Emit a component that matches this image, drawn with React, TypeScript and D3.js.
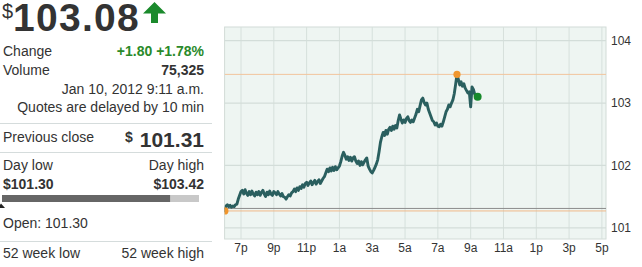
import React from "react";
import * as d3 from "d3";

// ---- data ----
const startMinute = 1; // minutes after 6:00 p.m.
const stepMinutes = 5;
const firstPrice = 101.27;
const prices: number[] = [
  // 6p-7p
  101.35, 101.37, 101.34, 101.36, 101.33, 101.35, 101.34, 101.37, 101.38, 101.46, 101.52, 101.58,
  // 7p-8p
  101.6, 101.54, 101.61, 101.55, 101.52, 101.58, 101.53, 101.59, 101.54, 101.51, 101.57, 101.53,
  // 8p-9p
  101.58, 101.52, 101.57, 101.6, 101.54, 101.5, 101.57, 101.53, 101.59, 101.54, 101.52, 101.58,
  // 9p-10p
  101.56, 101.53, 101.58, 101.54, 101.51, 101.55, 101.5, 101.49, 101.46, 101.5, 101.53, 101.51,
  // 10p-11p
  101.56, 101.58, 101.62, 101.58, 101.64, 101.6, 101.66, 101.63, 101.69, 101.65, 101.71, 101.73,
  // 11p-12a
  101.68, 101.72, 101.75, 101.69, 101.73, 101.76, 101.7, 101.74, 101.77, 101.71, 101.75, 101.79,
  // 12a-1a
  101.82, 101.88, 101.94, 101.9, 101.96, 101.91, 101.97, 101.92, 101.98, 101.93, 101.96, 101.99,
  // 1a-2a
  102.06, 102.15, 102.21, 102.16, 102.1, 102.14, 102.08, 102.13, 102.07, 102.12, 102.14, 102.07,
  // 2a-3a
  102.03, 102.07, 102.0, 102.06, 102.01, 102.05, 102.09, 102.12, 101.99, 101.94, 101.9, 101.88,
  // 3a-4a
  101.92, 101.97, 102.02, 102.09, 102.22, 102.37, 102.46, 102.53, 102.48, 102.56, 102.5, 102.58,
  // 4a-5a
  102.61, 102.56, 102.63, 102.58, 102.64, 102.6, 102.72, 102.81, 102.74, 102.68, 102.73, 102.69,
  // 5a-6a
  102.75, 102.78, 102.72, 102.69, 102.73, 102.7, 102.76, 102.82, 102.9, 102.86, 102.96, 103.05,
  // 6a-7a
  103.08, 103.01, 102.97, 103.0, 102.9, 102.84, 102.78, 102.72, 102.7, 102.65, 102.68, 102.63,
  // 7a-8a
  102.62, 102.66, 102.63, 102.7, 102.78, 102.86, 102.9, 102.97, 102.94, 103.0, 103.05, 103.15,
  // 8a-9a
  103.3, 103.46, 103.38, 103.29, 103.34, 103.27, 103.31, 103.24, 103.2, 103.16, 103.18, 102.94,
  // 9a-
  103.26, 103.22, 103.14, 103.1,
];
const previousClose = 101.31;
const xTickMinutes = [60, 180, 300, 420, 540, 660, 780, 900, 1020, 1140, 1260, 1380];
const xTickLabels = ["7p", "9p", "11p", "1a", "3a", "5a", "7a", "9a", "11a", "1p", "3p", "5p"];
const yTicks = [101, 102, 103, 104];
const xDomain = [0, 1395];
const yDomain = [100.82, 104.22];

const quoteLabel = "103.08";
const changeText = "+1.80 +1.78%";
const volumeText = "75,325";
const timeText = "Jan 10, 2012 9:11 a.m.";
const delayText = "Quotes are delayed by 10 min";
const prevCloseText = "101.31";
const dayLowText = "$101.30";
const dayHighText = "$103.42";
const openText = "Open: 101.30";
const dayLow = 101.3;
const dayHigh = 103.42;
const openPrice = 101.3;

type Pt = { m: number; p: number };
const series: Pt[] = [
  { m: startMinute, p: firstPrice },
  ...prices.map((p, i) => ({ m: 5 + i * stepMinutes, p })),
];

const FONT = "'Liberation Sans', Arial, sans-serif";
const TEXT = "#333";
const SEP = "#d5dcdc";

export default function App() {
  const W = 642;
  const H = 267;
  const pl = 224.6,
    pr = 606,
    pt = 27,
    pb = 239;
  const x = d3.scaleLinear().domain(xDomain).range([pl, pr]);
  const y = d3.scaleLinear().domain(yDomain).range([pb, pt]);
  const line = d3
    .line<Pt>()
    .x((d) => x(d.m))
    .y((d) => y(d.p));
  const hi = series.reduce((a, b) => (b.p > a.p ? b : a));
  const lo = series.reduce((a, b) => (b.p < a.p ? b : a));
  const last = series[series.length - 1];

  // day range bar
  const barX0 = 2,
    barX1 = 199;
  const rangeScale = d3.scaleLinear().domain([dayLow, dayHigh + (dayHigh - dayLow) * 0.172]).range([barX0, barX1]);

  const right = 204;

  return (
    <svg
      width={W}
      height={H}
      style={{ position: "absolute", left: 0, top: 0, background: "#fff" }}
      fontFamily={FONT}
    >
      <defs>
        <clipPath id="plotclip">
          <rect x={pl} y={pt} width={pr - pl} height={pb - pt} />
        </clipPath>
      </defs>
      {/* ---------- left quote panel ---------- */}
      <text x={2} y={18} fontSize={20} fill={TEXT}>
        $
      </text>
      <text x={13} y={30.5} fontSize={39} fontWeight="bold" fill={TEXT} letterSpacing={1.3}>
        {quoteLabel}
      </text>
      <polygon points="154.5,2 143,13.5 151,13.5 151,23 158,23 158,13.5 166,13.5" fill="#1b8a2c" />

      <text x={3} y={56} fontSize={14} fill={TEXT}>
        Change
      </text>
      <text x={right} y={56} fontSize={14} fontWeight="bold" fill="#2a8a2a" textAnchor="end">
        {changeText}
      </text>
      <text x={3} y={75} fontSize={14} fill={TEXT}>
        Volume
      </text>
      <text x={right} y={75} fontSize={14} fontWeight="bold" fill={TEXT} textAnchor="end">
        {volumeText}
      </text>
      <text x={right} y={94} fontSize={14} fill={TEXT} textAnchor="end">
        {timeText}
      </text>
      <text x={right} y={112} fontSize={14} fill={TEXT} textAnchor="end">
        {delayText}
      </text>
      <line x1={0} x2={212} y1={123.5} y2={123.5} stroke={SEP} />

      <text x={3} y={142} fontSize={14} fill={TEXT}>
        Previous close
      </text>
      <text x={125} y={142} fontSize={14} fontWeight="bold" fill={TEXT}>
        $
      </text>
      <text x={right} y={147} fontSize={21} fontWeight="bold" fill={TEXT} textAnchor="end">
        {prevCloseText}
      </text>
      <line x1={0} x2={212} y1={152.5} y2={152.5} stroke={SEP} />

      <text x={3} y={170} fontSize={14} fill={TEXT}>
        Day low
      </text>
      <text x={right} y={170} fontSize={14} fill={TEXT} textAnchor="end">
        Day high
      </text>
      <text x={3} y={189} fontSize={14} fontWeight="bold" fill={TEXT}>
        {dayLowText}
      </text>
      <text x={right} y={189} fontSize={14} fontWeight="bold" fill={TEXT} textAnchor="end">
        {dayHighText}
      </text>
      <rect x={barX0} y={195} width={barX1 - barX0} height={7} fill="#c8c8c8" />
      <rect x={barX0} y={195} width={rangeScale(dayHigh) - barX0} height={7} fill="#666" />
      <polygon
        points={`${rangeScale(openPrice) - 1},203.5 ${rangeScale(openPrice) + 3},208 ${rangeScale(openPrice) - 5},208`}
        fill="#222"
      />
      <text x={3} y={228} fontSize={14} fill={TEXT}>
        {openText}
      </text>
      <line x1={0} x2={212} y1={241.5} y2={241.5} stroke={SEP} />
      <text x={3} y={258} fontSize={14} fill={TEXT}>
        52 week low
      </text>
      <text x={right} y={258} fontSize={14} fill={TEXT} textAnchor="end">
        52 week high
      </text>

      {/* ---------- chart ---------- */}
      <rect x={pl} y={pt} width={pr - pl} height={pb - pt} fill="#eef5f2" stroke="#d2dbd7" />
      {xTickMinutes.map((m) => (
        <line key={"gx" + m} x1={x(m)} x2={x(m)} y1={pt} y2={pb} stroke="#d6e0dc" />
      ))}
      {yTicks.map((v) => (
        <line key={"gy" + v} x1={pl} x2={pr} y1={y(v)} y2={y(v)} stroke="#d3ddd9" strokeWidth={1.2} />
      ))}
      <g clipPath="url(#plotclip)">
        <line x1={pl} x2={pr} y1={y(hi.p)} y2={y(hi.p)} stroke="#f2c49c" />
        <line x1={pl} x2={pr} y1={y(lo.p)} y2={y(lo.p)} stroke="#f0b888" />
        <line x1={pl} x2={pr} y1={y(previousClose)} y2={y(previousClose)} stroke="#8c8c8c" />
        <path
          d={line(series) || ""}
          fill="none"
          stroke="#2a5f5f"
          strokeWidth={2.9}
          strokeLinejoin="round"
          strokeLinecap="round"
        />
        <circle cx={x(lo.m)} cy={y(lo.p)} r={3.6} fill="#f0962e" />
      </g>
      <circle cx={x(hi.m)} cy={y(hi.p)} r={3.6} fill="#f0962e" />
      <circle cx={x(last.m) + 1.5} cy={y(last.p)} r={4} fill="#17892b" />

      {yTicks.map((v) => (
        <text key={"ty" + v} x={611} y={y(v)} dy="0.35em" fontSize={12} fill={TEXT}>
          {v}
        </text>
      ))}
      {xTickMinutes.map((m, i) => (
        <text key={"tx" + m} x={x(m)} y={252} fontSize={12} fill={TEXT} textAnchor="middle">
          {xTickLabels[i]}
        </text>
      ))}
    </svg>
  );
}
